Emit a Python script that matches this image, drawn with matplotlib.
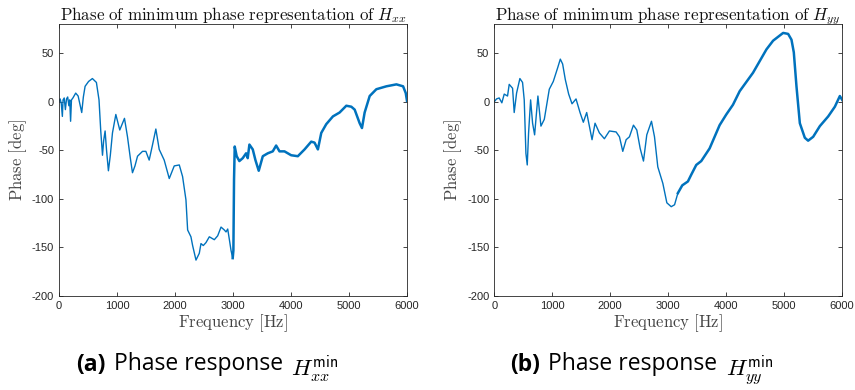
import matplotlib
matplotlib.use("Agg")
import matplotlib.pyplot as plt
import numpy as np

# %% data (frequency [Hz], phase [deg])

f_xx = [0, 20, 40, 58, 70, 90, 110, 130, 150, 170, 185, 200, 215, 240, 288, 330, 392,
        420, 450, 510, 576, 645, 690, 720, 750, 770, 795, 820, 852, 885, 922, 980, 1048,
        1129, 1181, 1230, 1267, 1310, 1354, 1440, 1498, 1555, 1610, 1670, 1728, 1814, 1901,
        1987, 2074, 2131, 2189, 2218, 2275, 2304, 2362, 2419, 2448, 2488, 2534, 2592,
        2678, 2736, 2794, 2851, 2880, 2909, 2938, 2966, 2995, 3007, 3018, 3030, 3064,
        3110, 3168, 3226, 3254, 3283, 3341, 3387, 3444, 3514, 3600, 3686, 3744, 3802,
        3888, 4003, 4118, 4234, 4349, 4406, 4464, 4522, 4608, 4723, 4838, 4954, 5040,
        5098, 5184, 5224, 5270, 5357, 5472, 5645, 5818, 5933, 5979, 6000]
ph_xx = [0, 3, -2, -15, 2, 4, -8, 3, 5, -4, 2, -20, 2, 4, 9, 6, -11,
         5, 16, 21, 24, 20, 2, -30, -55, -40, -30, -50, -71, -55, -32, -13, -29,
         -17, -36, -58, -73, -66, -56, -51, -51, -60, -45, -28, -49, -60, -79,
         -66, -65, -77, -101, -132, -139, -148, -163, -156, -146, -148, -145, -139,
         -142, -138, -129, -132, -134, -131, -142, -153, -161, -153, -80, -46, -56,
         -61, -58, -53, -58, -44, -49, -60, -71, -56, -53, -51, -45, -51,
         -51, -55, -56, -49, -41, -42, -49, -32, -23, -15, -11, -4, -5,
         -8, -22, -27, -11, 6, 13, 16, 18, 16, 9, 1]

f_yy = [0, 40, 86, 132, 173, 230, 259, 317, 345, 386, 443, 489, 518, 547, 570, 593,
        628, 662, 697, 754, 806, 864, 950, 1019, 1094, 1140, 1180, 1226, 1284, 1342,
        1411, 1480, 1537, 1595, 1641, 1687, 1739, 1814, 1900, 1987, 2102, 2160, 2217,
        2275, 2332, 2401, 2459, 2517, 2574, 2631, 2712, 2764, 2821, 2908, 2977, 3052,
        3110, 3167, 3243, 3340, 3398, 3484, 3570, 3714, 3887, 4002, 4117, 4233, 4463,
        4694, 4809, 4982, 5068, 5126, 5166, 5212, 5270, 5356, 5413, 5500, 5615, 5759,
        5874, 5960, 6000]
ph_yy = [0, 3, 4, -1, 8, 6, 18, 14, -11, 9, 24, 20, 2, -53, -65, -32,
         2, -22, -34, 6, -25, -18, 13, 21, 35, 44, 39, 23, 8, -2,
         3, -11, -21, -11, -25, -39, -22, -32, -38, -30, -31, -36, -51,
         -39, -36, -24, -29, -48, -61, -34, -20, -36, -67, -84, -104, -108,
         -106, -94, -86, -82, -75, -65, -61, -48, -24, -13, -3, 11, 30,
         54, 63, 71, 70, 64, 51, 16, -22, -37, -40, -36, -25, -15,
         -5, 6, 2]

xticks = [0, 1000, 2000, 3000, 4000, 5000, 6000]
yticks = [-200, -150, -100, -50, 0, 50]

# %% plotting

plt.rcParams['axes.unicode_minus'] = False
plt.rcParams['font.family'] = 'Liberation Sans'

matlab_blue = '#0072BD'
axis_grey = '#262626'

fig = plt.figure(figsize=(8.55, 3.9), dpi=100)
ax1 = fig.add_axes([0.069, 0.241, 0.407, 0.697])
ax2 = fig.add_axes([0.578, 0.241, 0.407, 0.697])

panels = [(ax1, f_xx, ph_xx, 'xx', 3000), (ax2, f_yy, ph_yy, 'yy', 3200)]
for ax, f, ph, sub, f_noisy in panels:
    f = np.array(f)
    ph = np.array(ph)
    smooth = f <= f_noisy
    ax.plot(f[smooth], ph[smooth], color=matlab_blue, lw=1.0)
    noisy = f >= f[smooth][-1]
    ax.plot(f[noisy], ph[noisy], color=matlab_blue, lw=1.8)  # ruskete del -> tykkere
    ax.set_xlim(0, 6000)
    ax.set_ylim(-200, 80)
    ax.set_xticks(xticks)
    ax.set_yticks(yticks)
    ax.tick_params(direction='in', top=True, right=True, labelsize=8,
                   colors=axis_grey, length=3, width=0.6)
    for s in ax.spines.values():
        s.set_color(axis_grey)
        s.set_linewidth(0.6)
    ax.set_title(r'$\mathrm{Phase\ of\ minimum\ phase\ representation\ of}\ H_{%s}$' % sub,
                 math_fontfamily='cm', fontsize=12.2, pad=3, color='#111111')
    ax.set_xlabel(r'$\mathrm{Frequency\ [Hz]}$', math_fontfamily='cm', fontsize=12,
                  labelpad=1, color='#444444')
    ax.set_ylabel(r'$\mathrm{Phase\ [deg]}$', math_fontfamily='cm', fontsize=12,
                  labelpad=2, color='#444444')

# %% captions under the panels

captions = [(0.089, '(a)', 'xx'), (0.597, '(b)', 'yy')]
for x0, tag, sub in captions:
    t1 = fig.text(x0, 0.05, tag, fontsize=16.5, fontweight='bold', fontfamily='Open Sans')
    t2 = plt.annotate(' Phase response', xy=(1, 0), xycoords=t1, va='bottom',
                      xytext=(1.5, 0), textcoords='offset points',
                      fontsize=16.5, fontfamily='Open Sans', annotation_clip=False)
    plt.annotate(r'$H_{%s}^{\mathsf{min}}$' % sub, xy=(1, 0), xycoords=t2, va='baseline',
                 xytext=(6, 0), textcoords='offset points',
                 fontsize=16.5, math_fontfamily='cm', annotation_clip=False)

plt.savefig('out.png', dpi=100)
